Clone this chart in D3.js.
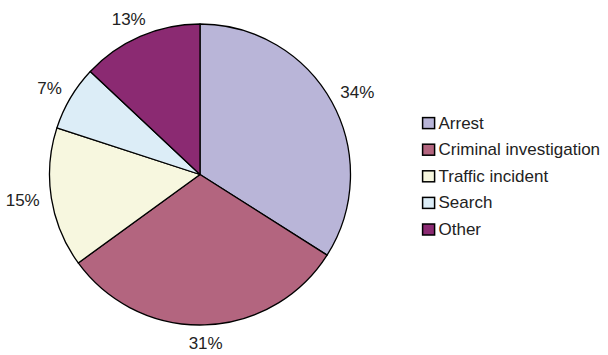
<!DOCTYPE html>
<html><head><meta charset="utf-8">
<script src="https://cdn.jsdelivr.net/npm/d3@7"></script>
<style>html,body{margin:0;padding:0;background:#fff;}</style>
</head><body>
<svg id="c" width="608" height="355"></svg>
<script>
const categories = ["Arrest", "Criminal investigation", "Traffic incident", "Search", "Other"];
const values = [34, 31, 15, 7, 13];
const labels = ["34%", "31%", "15%", "7%", "13%"];
const colors = ["#b9b5d8", "#b3657f", "#f7f7df", "#dcedf7", "#8b2a72"];

const svg = d3.select("#c");
const cx = 200, cy = 174.5, R = 150.5;
const font = "'Liberation Sans', Arial, sans-serif";

const pie = d3.pie().sort(null).value(d => d)(values);
const arc = d3.arc().innerRadius(0).outerRadius(R);

const g = svg.append("g").attr("transform", `translate(${cx},${cy})`);
g.selectAll("path").data(pie).join("path")
  .attr("d", arc)
  .attr("fill", (d, i) => colors[i])
  .attr("stroke", "#000")
  .attr("stroke-width", 1.3)
  .attr("stroke-linejoin", "round");

const gap = 12;
g.selectAll("text.lbl").data(pie).join("text")
  .attr("class", "lbl")
  .attr("font-family", font)
  .attr("font-size", 17)
  .attr("fill", "#222")
  .attr("text-anchor", "middle")
  .attr("dominant-baseline", "central")
  .text((d, i) => labels[i])
  .each(function(d) {
    const a = (d.startAngle + d.endAngle) / 2;
    const sx = Math.sin(a), cy2 = -Math.cos(a);
    const w = this.getComputedTextLength() / 2, h = 6.8;
    const dist = R + gap;
    const x = sx * dist + sx * w;
    const y = cy2 * dist + cy2 * h;
    d3.select(this).attr("x", x).attr("y", y);
  });

const leg = svg.append("g").attr("transform", "translate(422,123)");
const row = leg.selectAll("g").data(categories).join("g")
  .attr("transform", (d, i) => `translate(0,${i * 26.6})`);
row.append("rect")
  .attr("x", 0.6).attr("y", -5.4).attr("width", 12).attr("height", 11)
  .attr("fill", (d, i) => colors[i])
  .attr("stroke", "#000").attr("stroke-width", 1.5);
row.append("text")
  .attr("x", 16.5).attr("y", 0)
  .attr("dominant-baseline", "central")
  .attr("font-family", font)
  .attr("font-size", 17)
  .attr("fill", "#222")
  .text(d => d);
</script>
</body></html>
